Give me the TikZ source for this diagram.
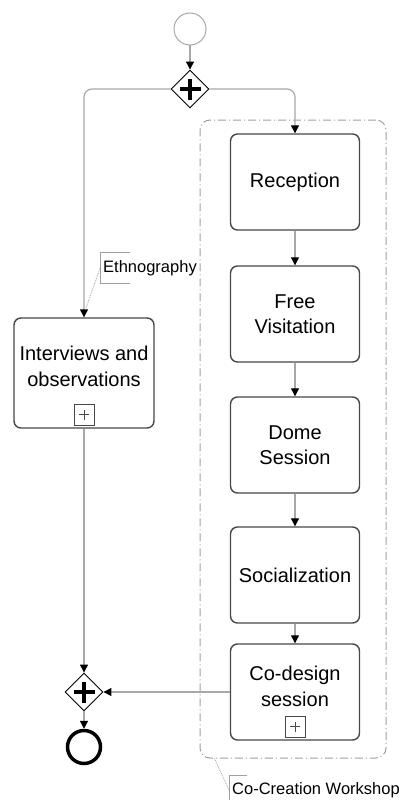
\documentclass[tikz,border=0pt]{standalone}
\usepackage{fontspec}
\setmainfont{Liberation Sans}
\usepackage{tikz}
\usetikzlibrary{arrows.meta,shapes.geometric}
\definecolor{flowc}{HTML}{A8A8A8}
\definecolor{boxc}{HTML}{484848}
\definecolor{grpc}{HTML}{A0A0A0}
\tikzset{
  task/.style={draw=boxc, line width=1.4pt, rounded corners=7pt, fill=white,
    minimum width=129pt, minimum height=96pt, align=center,
    font=\fontsize{20}{25}\selectfont},
  txt/.style={align=center, inner sep=0pt, font=\fontsize{20}{26}\selectfont},
  gate/.style={diamond, draw=black, line width=0.9pt, fill=white, inner sep=0pt,
    minimum width=38pt, minimum height=38pt,
    path picture={\draw[line width=3.5pt]
      ([xshift=-10.5pt]path picture bounding box.center) -- ([xshift=10.5pt]path picture bounding box.center)
      ([yshift=-10.5pt]path picture bounding box.center) -- ([yshift=10.5pt]path picture bounding box.center);}},
  startev/.style={circle, draw=flowc, line width=1pt, minimum size=32pt, inner sep=0pt},
  endev/.style={circle, draw=black, line width=3.5pt, minimum size=33pt, inner sep=0pt},
  marker/.style={draw=boxc, line width=1pt, minimum width=20pt, minimum height=21pt, inner sep=0pt,
    path picture={\draw[line width=0.8pt]
      ([xshift=-5pt]path picture bounding box.center) -- ([xshift=5pt]path picture bounding box.center)
      ([yshift=-5pt]path picture bounding box.center) -- ([yshift=5pt]path picture bounding box.center);}},
  flow/.style={draw=flowc, line width=1.2pt, -{Triangle[length=8pt,width=8pt,color=black]}},
  group/.style={draw=grpc, line width=1pt, rounded corners=10pt,
    dash pattern=on 8pt off 3pt on 1pt off 3pt, minimum width=186pt, minimum height=638pt},
  annot/.style={anchor=west, inner xsep=3pt, inner ysep=0pt, minimum height=30pt,
    font=\fontsize{16.5}{19}\selectfont},
  brk/.style={draw=grpc, line width=1pt},
  assoc/.style={draw=grpc, line width=0.8pt, densely dotted}
}

\begin{document}
\begin{tikzpicture}[x=1pt, y=-1pt]
  \useasboundingbox[fill=white] (0,0) rectangle (403,800);

  \node[group] (grp) at (293,439) {}; % co-creation workshop
  \coordinate (ethtgt) at (86,308);

  \node[startev] (start) at (190,29) {};
  \node[gate] (g1) at (190,89) {};

  \node[task] (rec) at (295,182) {Reception};
  \node[task] (fv)  at (295,314) {Free\\Visitation};
  \node[task] (ds)  at (295,445) {Dome\\Session};
  \node[task] (soc) at (295,575) {Socialization};
  \node[task] (cd)  at (295,692) {};
  \node[txt] (cdt) at ([yshift=6pt]cd.center) {Co-design\\session};
  \node[marker, anchor=south] (cdm) at ([yshift=3pt]cd.south) {};

  \node[task, minimum width=140pt, minimum height=110pt] (iv) at (84,373) {};
  \node[txt] (ivt) at ([yshift=7pt]iv.center) {Interviews and\\observations};
  \node[marker, anchor=south] (ivm) at ([yshift=3pt]iv.south) {};

  \node[gate] (g2) at (84,692) {};
  \node[endev] (stop) at (84,747) {};

  \draw[flow] (start) -- (g1);
  \draw[flow, rounded corners=8pt] (g1.west) -| (iv.north);
  \draw[flow, rounded corners=8pt] (g1.east) -| (rec.north);
  \draw[flow] (rec) -- (fv);
  \draw[flow] (fv) -- (ds);
  \draw[flow] (ds) -- (soc);
  \draw[flow] (soc) -- (cd);
  \draw[flow] (iv.south) -- (g2.north);
  \draw[flow] (cd.west) -- (g2.east);
  \draw[flow] (g2) -- (stop);

  % text annotations
  \node[annot] (eth) at (100,268) {Ethnography};
  \draw[brk] ([xshift=30pt]eth.north west) -- (eth.north west) -- (eth.south west) -- ([xshift=30pt]eth.south west);
  \draw[assoc] (eth.west) -- (ethtgt);

  \node[annot, anchor=north west] (ccw) at (229,775) {Co-Creation Workshop};
  \draw[brk] ([xshift=18pt]ccw.north west) -- (ccw.north west) -- (ccw.south west);
  \draw[assoc] ([xshift=15pt]grp.south west) -- ([yshift=-15pt]ccw.north west);
\end{tikzpicture}
\end{document}
